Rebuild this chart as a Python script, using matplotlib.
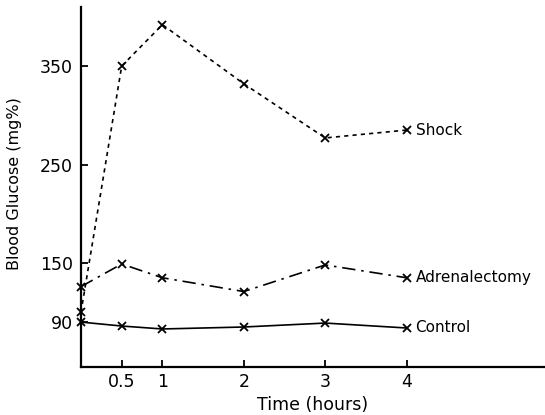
import matplotlib
matplotlib.use("Agg")
import matplotlib.pyplot as plt

# time after treatment (hours)
hours = [0, 0.5, 1, 2, 3, 4]

# blood glucose (mg%)
shock = [100, 350, 392, 332, 277, 285]
adrenalectomy = [126, 149, 135, 121, 148, 135]
control = [90, 86, 83, 85, 89, 84]

x_ticks = [0.5, 1, 2, 3, 4]
x_tick_labels = ["0.5", "1", "2", "3", "4"]
y_ticks = [90, 150, 250, 350]

plt.rcParams["font.family"] = "DejaVu Sans"

fig = plt.figure(figsize=(5.45, 4.15), dpi=100)
ax = fig.add_axes([0.1486, 0.1157, 0.8514, 0.8675])

ax.plot(hours, shock, color="black", lw=1.2, ls=(0, (2.5, 2.5)),
        marker="x", ms=6, mew=1.3, clip_on=False)
ax.plot(hours, adrenalectomy, color="black", lw=1.2, ls=(0, (8, 3.5, 1.5, 3.5)),
        marker="x", ms=6, mew=1.3, clip_on=False)
ax.plot(hours, control, color="black", lw=1.2, ls="-",
        marker="x", ms=6, mew=1.3, clip_on=False)

# curve labels next to the last point
for name, vals in [("Shock", shock), ("Adrenalectomy", adrenalectomy),
                   ("Control", control)]:
    ax.text(hours[-1] + 0.11, vals[-1], name, fontsize=11, va="center", ha="left")

ax.set_xlim(0, 5.7)
ax.set_ylim(44.4, 410)
ax.set_xticks(x_ticks)
ax.set_xticklabels(x_tick_labels)
ax.set_yticks(y_ticks)

ax.spines["top"].set_visible(False)
ax.spines["right"].set_visible(False)
ax.spines["left"].set_linewidth(1.6)
ax.spines["bottom"].set_linewidth(1.6)
ax.tick_params(axis="both", direction="in", length=5, width=1.3, labelsize=12.5)
ax.tick_params(axis="y", pad=6)
ax.tick_params(axis="x", pad=4)

ax.set_xlabel("Time (hours)", fontsize=12.5, labelpad=4)
fig.text(15 / 545, 1 - 184 / 415, "Blood Glucose (mg%)", rotation=90,
         ha="center", va="center", fontsize=11.5)

fig.savefig("out.png", dpi=100)
